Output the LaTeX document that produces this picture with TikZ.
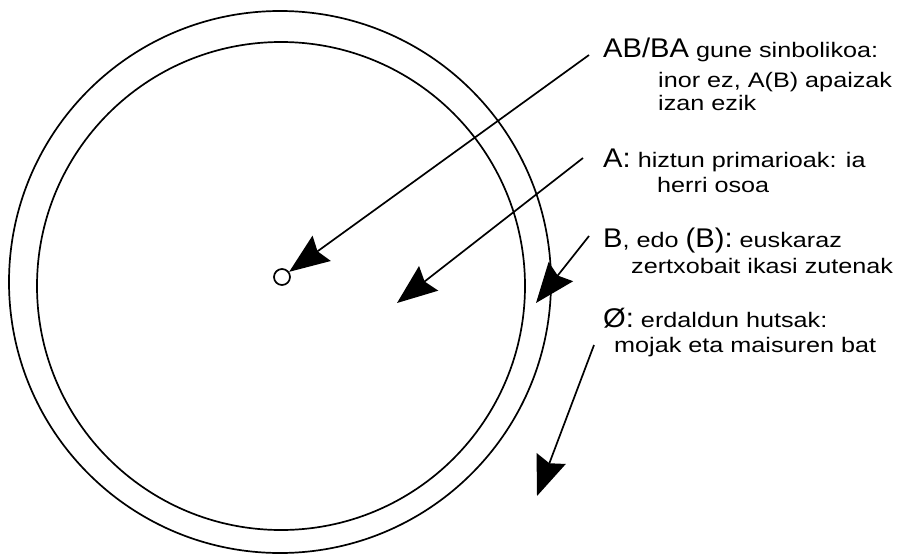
\documentclass[tikz,border=0pt]{standalone}
\usepackage{fontspec}
\setmainfont{Liberation Sans}[FakeStretch=1.2]
\newfontfamily\bigfam{Liberation Sans}[FakeStretch=1.08]
\usetikzlibrary{arrows.meta}
\begin{document}
\begin{tikzpicture}[x=1pt,y=-1pt,
  ring/.style={draw, line width=1.7pt},
  ptr/.style={line width=1.7pt, -{Stealth[length=40pt,width=31pt,inset=5pt]}},
  txt/.style={anchor=base west, inner sep=0pt, font=\fontsize{21}{23}\selectfont}]
\newcommand{\bg}[1]{{\bigfam\fontsize{27}{29}\selectfont #1}}
\useasboundingbox (0,0) rectangle (901,554);
\draw[ring] (280,282) circle[radius=271];
\draw[ring] (281,286) circle[radius=244];
\node[draw, circle, line width=1.7pt, minimum size=16pt, inner sep=0pt] (c0) at (282,277) {};
\coordinate (t2) at (397,303);
\coordinate (t3) at (536,303);
\coordinate (t4) at (537,496);
\coordinate (s1) at (589,55);
\coordinate (s2) at (583,158);
\coordinate (s3) at (589,236);
\coordinate (s4) at (594,345);
\draw[ptr] (s1) -- (c0);
\draw[ptr] (s2) -- (t2);
\draw[ptr] (s3) -- (t3);
\draw[ptr] (s4) -- (t4);
\node[txt] (l1a) at (603,57) {\bg{AB/BA} gune sinbolikoa:};
\node[txt] (l1b) at (658,87) {inor ez, A(B) apaizak};
\node[txt] (l1c) at (658,110) {izan ezik};
\node[txt] (l2a) at (603,167) {\bg{A:} hiztun primarioak: ia};
\node[txt] (l2b) at (657,192) {herri osoa};
\node[txt] (l3a) at (603,247) {\bg{B}, edo \bg{(B):} euskaraz};
\node[txt] (l3b) at (631,273) {zertxobait ikasi zutenak};
\node[txt] (l4a) at (603,327) {\bg{Ø:} erdaldun hutsak:};
\node[txt] (l4b) at (614,352) {mojak eta maisuren bat};
\end{tikzpicture}
\end{document}
